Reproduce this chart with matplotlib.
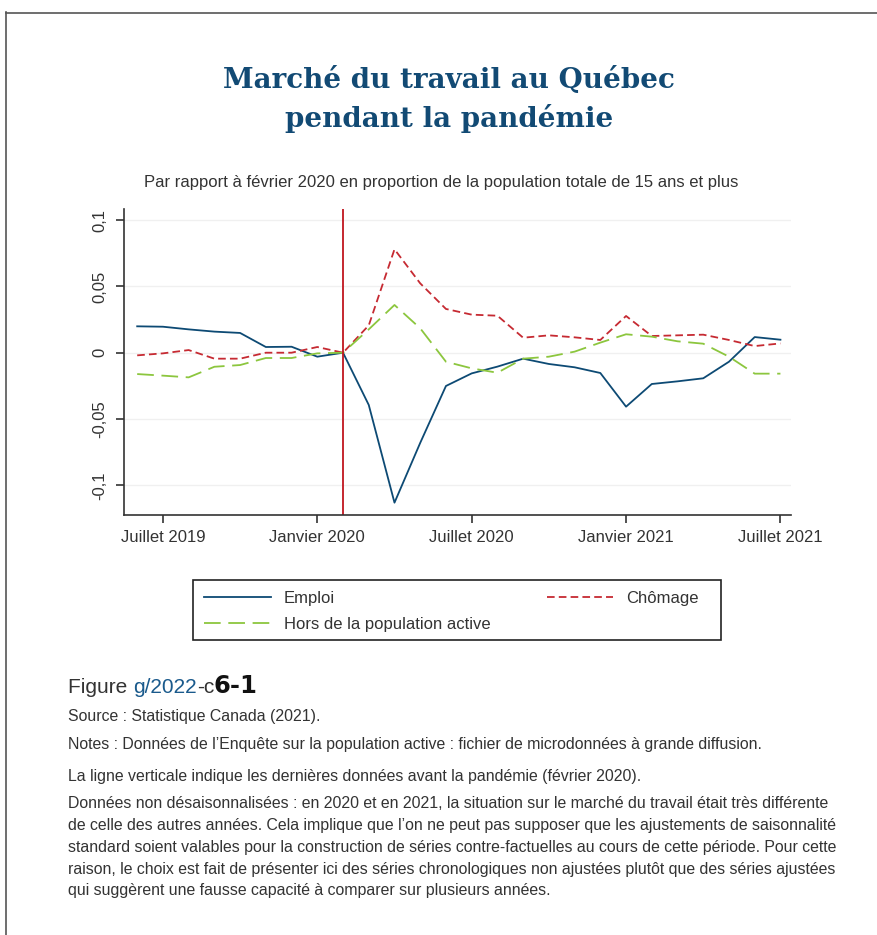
import matplotlib
matplotlib.use("Agg")
import matplotlib.pyplot as plt
from matplotlib.lines import Line2D
from matplotlib.patches import Rectangle

plt.rcParams['font.family'] = ['Liberation Sans', 'DejaVu Sans']
plt.rcParams['lines.scale_dashes'] = False

mois = ["2019-06", "2019-07", "2019-08", "2019-09", "2019-10", "2019-11", "2019-12",
        "2020-01", "2020-02", "2020-03", "2020-04", "2020-05", "2020-06", "2020-07",
        "2020-08", "2020-09", "2020-10", "2020-11", "2020-12", "2021-01", "2021-02",
        "2021-03", "2021-04", "2021-05", "2021-06", "2021-07"]

emploi = [0.0199, 0.0196, 0.0176, 0.0159, 0.0149, 0.0043, 0.0045, -0.0030, 0.0,
          -0.0394, -0.1131, -0.0680, -0.0251, -0.0156, -0.0105, -0.0045, -0.0085,
          -0.0110, -0.0153, -0.0407, -0.0236, -0.0216, -0.0193, -0.0068, 0.0118, 0.0098]
chomage = [-0.0020, -0.0005, 0.0020, -0.0045, -0.0045, 0.0, 0.0, 0.0043, 0.0,
           0.0206, 0.0780, 0.0523, 0.0330, 0.0287, 0.0279, 0.0113, 0.0131,
           0.0116, 0.0096, 0.0277, 0.0126, 0.0131, 0.0136, 0.0096, 0.0050, 0.0070]
hors_pop = [-0.0161, -0.0173, -0.0186, -0.0106, -0.0093, -0.0040, -0.0040, -0.0005, 0.0,
            0.0176, 0.0360, 0.0184, -0.0068, -0.0118, -0.0151, -0.0045, -0.0030,
            0.0008, 0.0076, 0.0139, 0.0121, 0.0086, 0.0068, -0.0030, -0.0158, -0.0158]

tick_mois = ["2019-07", "2020-01", "2020-07", "2021-01", "2021-07"]
tick_labels = ["Juillet 2019", "Janvier 2020", "Juillet 2020", "Janvier 2021", "Juillet 2021"]
y_ticks = [0.1, 0.05, 0, -0.05, -0.1]
y_labels = ["0,1", "0,05", "0", "-0,05", "-0,1"]
mois_pandemie = "2020-02"

BLEU = "#0d4a74"
ROUGE = "#c62a32"
VERT = "#8cc63e"
TEXTE = "#333333"

fig = plt.figure(figsize=(8.78, 9.35), dpi=100)
ax = fig.add_axes([0.1416, 0.4492, 0.759, 0.3273])

x = list(range(len(mois)))
l1, = ax.plot(x, emploi, color=BLEU, lw=1.3, label="Emploi")
l2, = ax.plot(x, chomage, color=ROUGE, lw=1.3, dashes=(5.5, 3), label="Chômage")
l3, = ax.plot(x, hors_pop, color=VERT, lw=1.3, dashes=(12, 5.5), label="Hors de la population active")
ax.axvline(mois.index(mois_pandemie), color="#c0161f", lw=1.3)

ax.set_xlim(-0.5, 25.4)
ax.set_ylim(-0.1224, 0.1084)
ax.set_xticks([mois.index(m) for m in tick_mois])
ax.set_xticklabels(tick_labels)
ax.set_yticks(y_ticks)
ax.set_yticklabels(y_labels, rotation=90, va="center")
ax.grid(axis="y", color="#f0f0f0", lw=1)
ax.set_axisbelow(True)
for s in ["top", "right"]:
    ax.spines[s].set_visible(False)
for s in ["left", "bottom"]:
    ax.spines[s].set_color("#333333")
    ax.spines[s].set_linewidth(1.2)
ax.tick_params(direction="out", length=5.5, width=1.2, color="#333333",
               labelsize=12, labelcolor=TEXTE)
ax.tick_params(axis="x", pad=5)
ax.tick_params(axis="y", pad=7)

# légende sans cadre + cadre dessiné à part
leg = fig.legend([l1, l3, l2], ["Emploi", "Hors de la population active", "Chômage"],
                 ncol=2, loc="upper left", bbox_to_anchor=(193 / 878, 1 - 580 / 935),
                 fontsize=12, frameon=False, handlelength=4.0, handletextpad=0.78,
                 columnspacing=3.4, borderaxespad=0, borderpad=0.65, labelspacing=0.67)
for t in leg.get_texts():
    t.set_color(TEXTE)
fig.add_artist(Rectangle((193 / 878, 1 - 640 / 935), 528 / 878, 60 / 935,
                         transform=fig.transFigure, fill=False,
                         edgecolor="#222222", lw=1.2))

fig.text(0.511, 1 - 99.5 / 935, "Marché du travail au Québec\npendant la pandémie",
         ha="center", va="center", fontsize=20, fontweight="bold",
         family="DejaVu Serif", color="#124a74", linespacing=1.45)
fig.text(441 / 878, 1 - 183 / 935,
         "Par rapport à février 2020 en proportion de la population totale de 15 ans et plus",
         ha="center", va="center", fontsize=12, color=TEXTE)

y_fig = 1 - 693 / 935
t1 = fig.text(68 / 878, y_fig, "Figure ", fontsize=15, color=TEXTE, va="baseline")
t2 = fig.text(0, 0, "g/2022", fontsize=15, color="#1a5a8c", va="baseline")
t3 = fig.text(0, 0, "-c", fontsize=15, color=TEXTE, va="baseline")
t4 = fig.text(0, 0, "6-1", fontsize=17.5, color="#111111", va="baseline",
              family="DejaVu Sans", fontweight="heavy")
fig.canvas.draw()
r = fig.canvas.get_renderer()
prev = t1
for t in [t2, t3, t4]:
    bb = prev.get_window_extent(r)
    t.set_position((bb.x1 / fig.bbox.width, y_fig))
    fig.canvas.draw()
    prev = t

notes = [
    (717, "Source : Statistique Canada (2021)."),
    (745, "Notes : Données de l’Enquête sur la population active : fichier de microdonnées à grande diffusion."),
    (776, "La ligne verticale indique les dernières données avant la pandémie (février 2020)."),
]
for y, s in notes:
    fig.text(68 / 878, 1 - y / 935, s, fontsize=11.4, color=TEXTE, va="center")

para = ["Données non désaisonnalisées : en 2020 et en 2021, la situation sur le marché du travail était très différente",
        "de celle des autres années. Cela implique que l’on ne peut pas supposer que les ajustements de saisonnalité",
        "standard soient valables pour la construction de séries contre-factuelles au cours de cette période. Pour cette",
        "raison, le choix est fait de présenter ici des séries chronologiques non ajustées plutôt que des séries ajustées",
        "qui suggèrent une fausse capacité à comparer sur plusieurs années."]
for i, s in enumerate(para):
    fig.text(68 / 878, 1 - (804 + i * 21.7) / 935, s, fontsize=11.4, color=TEXTE, va="center")

# cadre de la page
fig.add_artist(Line2D([6.5 / 878, 6.5 / 878], [0, 1 - 12 / 935], color="#555555", lw=1.2))
fig.add_artist(Line2D([6.5 / 878, 1], [1 - 12.5 / 935, 1 - 12.5 / 935], color="#555555", lw=1.2))

fig.savefig("out.png", dpi=100)
